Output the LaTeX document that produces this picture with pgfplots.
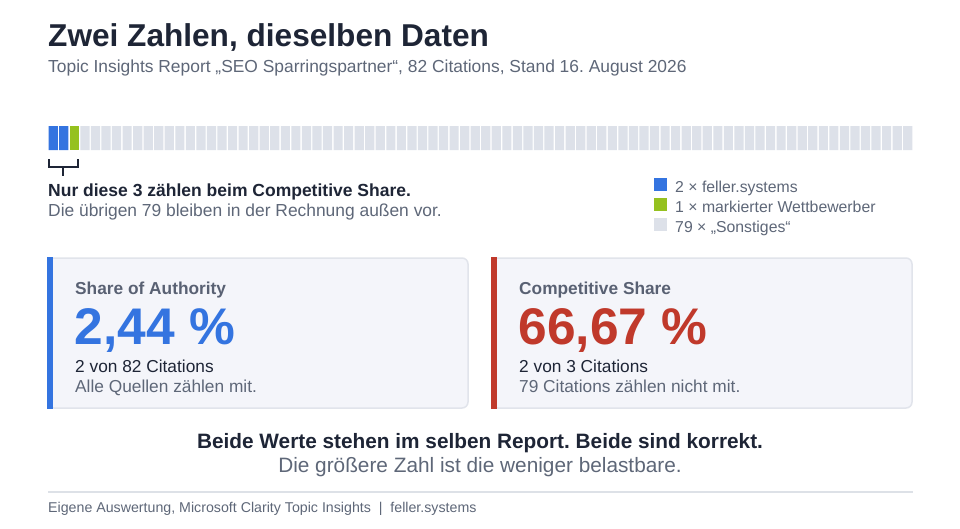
\documentclass[border=0pt]{standalone}
\usepackage{pgfplots}
\pgfplotsset{compat=1.18}
\usepackage{fontspec}
\setmainfont{Liberation Sans}
\frenchspacing

\definecolor{ink}{HTML}{1E2536}
\definecolor{muted}{HTML}{5E6778}
\definecolor{cardhead}{HTML}{596173}
\definecolor{fsblue}{HTML}{3474E0}
\definecolor{rivalgreen}{HTML}{95C11F}
\definecolor{othergray}{HTML}{DDE1E9}
\definecolor{cardfill}{HTML}{F4F5FA}
\definecolor{cardline}{HTML}{E1E4EB}
\definecolor{alertred}{HTML}{C0392B}
\definecolor{rule}{HTML}{DDE1E7}

\newcommand{\fs}[1]{\fontsize{#1}{#1}\selectfont}

\begin{document}
\begin{tikzpicture}[x=1pt,y=-1pt,
  txt/.style={anchor=base west,inner sep=0pt}]
\path[fill=white] (0,0) rectangle (960,528);

% title block
\node[txt,text=ink,font=\fs{31.6}\bfseries] at (48,46) {Zwei Zahlen, dieselben Daten};
\node[txt,text=muted,font=\fs{17.4}] at (48,72.5) {Topic Insights Report „SEO Sparringspartner“, 82 Citations, Stand 16. August 2026};

% waffle row: one cell per citation
\begin{axis}[
  at={(48pt,-150pt)}, anchor=south west,
  scale only axis, width=865pt, height=24pt,
  xmin=-0.5, xmax=81.5, ymin=0, ymax=1,
  hide axis, clip=false,
  legend cell align=left,
  legend image code/.code={\fill[#1] (0pt,-1.5pt) rectangle (13pt,11.5pt);},
  legend style={at={(rel axis cs:0.7006,-1.15)}, anchor=north west,
    draw=none, fill=none, inner sep=0pt, font=\fs{15.8}, text=muted,
    row sep=1pt,
    nodes={inner sep=0pt, text height=11pt, text depth=4pt},
    /tikz/every odd column/.append style={column sep=8pt}},
]
\addplot[ybar, bar width=0.87, bar shift=0pt, fill=fsblue, draw=none]
  coordinates {(0,1) (1,1)};
\addlegendentry{2 × feller.systems}
\addplot[ybar, bar width=0.87, bar shift=0pt, fill=rivalgreen, draw=none]
  coordinates {(2,1)};
\addlegendentry{1 × markierter Wettbewerber}
\addplot[ybar, bar width=0.87, bar shift=0pt, fill=othergray, draw=none]
  coordinates {(3,1) (4,1) (5,1) (6,1) (7,1) (8,1) (9,1) (10,1) (11,1) (12,1)
    (13,1) (14,1) (15,1) (16,1) (17,1) (18,1) (19,1) (20,1) (21,1) (22,1)
    (23,1) (24,1) (25,1) (26,1) (27,1) (28,1) (29,1) (30,1) (31,1) (32,1)
    (33,1) (34,1) (35,1) (36,1) (37,1) (38,1) (39,1) (40,1) (41,1) (42,1)
    (43,1) (44,1) (45,1) (46,1) (47,1) (48,1) (49,1) (50,1) (51,1) (52,1)
    (53,1) (54,1) (55,1) (56,1) (57,1) (58,1) (59,1) (60,1) (61,1) (62,1)
    (63,1) (64,1) (65,1) (66,1) (67,1) (68,1) (69,1) (70,1) (71,1) (72,1)
    (73,1) (74,1) (75,1) (76,1) (77,1) (78,1) (79,1) (80,1) (81,1)};
\addlegendentry{79 × „Sonstiges“}
\end{axis}

% bracket under the first three cells
\draw[ink, line width=1.8pt, line cap=butt]
  (48.9,159) -- (48.9,167) -- (77.6,167) -- (77.6,159);
\draw[ink, line width=1.8pt] (63,167) -- (63,176);

\node[txt,text=ink,font=\fs{17.5}\bfseries] at (48,196) {Nur diese 3 zählen beim Competitive Share.};
\node[txt,text=muted,font=\fs{17.4}] at (48,216) {Die übrigen 79 bleiben in der Rechnung außen vor.};

% cards
\foreach \x/\c in {48/fsblue, 492/alertred} {
  \draw[fill=cardfill, draw=cardline, line width=1.5pt, rounded corners=6pt]
    (\x,258) rectangle ++(420,150);
  \fill[\c] (\x-0.75,257.25) rectangle (\x+5,408.75);
}
\node[txt,text=cardhead,font=\fs{17.3}\bfseries] at (75,294) {Share of Authority};
\node[txt,text=fsblue,font=\fs{51.5}\bfseries] at (74.5,344) {2,44 \%};
\node[txt,text=ink,font=\fs{17.3}] at (75,372) {2 von 82 Citations};
\node[txt,text=muted,font=\fs{17.3}] at (75,392) {Alle Quellen zählen mit.};

\node[txt,text=cardhead,font=\fs{17.3}\bfseries] at (519,294) {Competitive Share};
\node[txt,text=alertred,font=\fs{51.5}\bfseries] at (518.5,344) {66,67 \%};
\node[txt,text=ink,font=\fs{17.3}] at (519,372) {2 von 3 Citations};
\node[txt,text=muted,font=\fs{17.3}] at (519,392) {79 Citations zählen nicht mit.};

% conclusion
\node[anchor=base,inner sep=0pt,text=ink,font=\fs{20.8}\bfseries] at (480,448) {Beide Werte stehen im selben Report. Beide sind korrekt.};
\node[anchor=base,inner sep=0pt,text=muted,font=\fs{20.8}] at (480,472) {Die größere Zahl ist die weniger belastbare.};

% footer
\draw[rule, line width=1.2pt] (48,492) -- (913,492);
\node[txt,text=muted,font=\fs{14.2}] at (48,512) {Eigene Auswertung, Microsoft Clarity Topic Insights\ \ |\ \ feller.systems};
\end{tikzpicture}
\end{document}
